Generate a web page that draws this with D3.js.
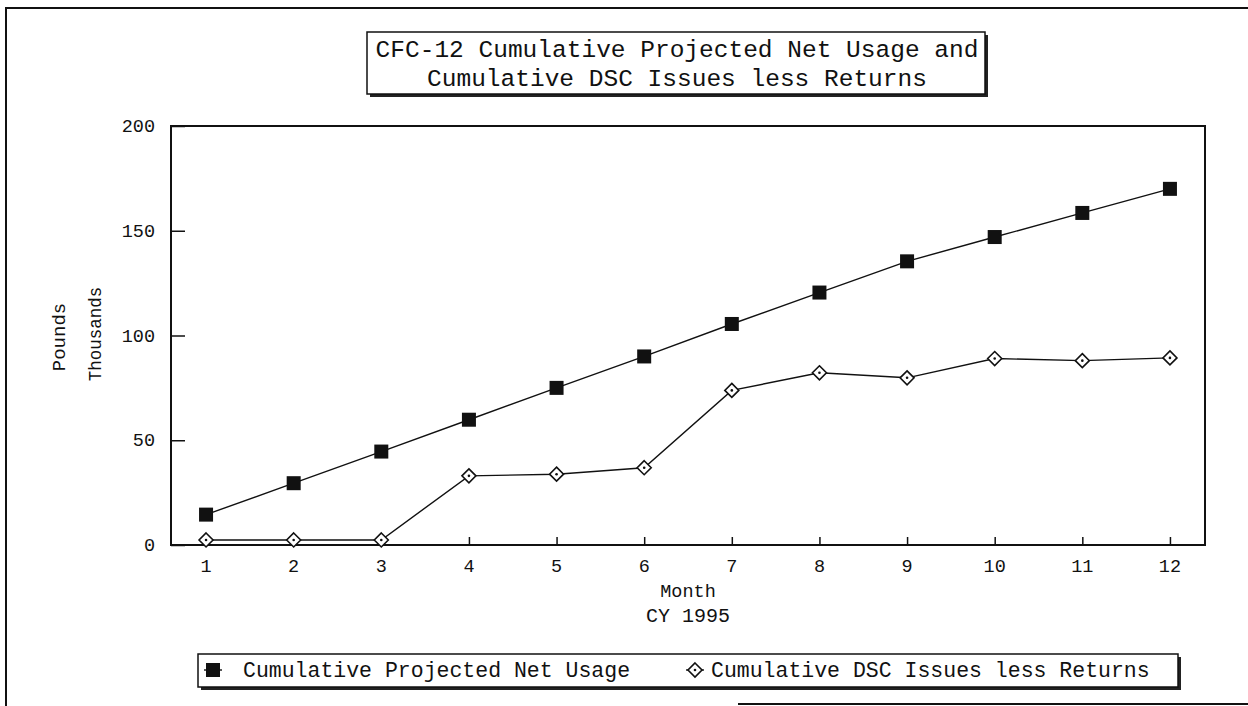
<!DOCTYPE html>
<html>
<head>
<meta charset="utf-8">
<script src="https://cdn.jsdelivr.net/npm/d3@7"></script>
<style>
  body { margin: 0; background: #fff; }
  svg { display: block; }
  text { font-family: "Liberation Mono", "Courier New", monospace; fill: #111; }
</style>
</head>
<body>
<svg width="1248" height="706"></svg>
<script>
// datos
const months = [1, 2, 3, 4, 5, 6, 7, 8, 9, 10, 11, 12];
const projectedNet = [14.5, 29.5, 44.6, 59.8, 75, 90, 105.5, 120.5, 135.4, 147, 158.5, 170];
const dscIssues = [2.4, 2.4, 2.4, 33, 33.8, 36.9, 73.8, 82.2, 79.8, 89, 88, 89.3];
const yTicks = [0, 50, 100, 150, 200];
const titleLines = ["CFC-12 Cumulative Projected Net Usage and", "Cumulative DSC Issues less Returns"];
const seriesNames = ["Cumulative Projected Net Usage", "Cumulative DSC Issues less Returns"];

const svg = d3.select("svg");
const W = 1248, H = 706;
const plot = { left: 171, right: 1205, top: 126, bottom: 545 };

// marco exterior
svg.append("path")
  .attr("d", `M6,${H} L6,8 L${W},8 M738,704 L${W},704`)
  .attr("fill", "none")
  .attr("stroke", "#111")
  .attr("stroke-width", 2);

// escalas
const x = d3.scaleLinear().domain([0.6, 12.4]).range([plot.left, plot.right]);
const y = d3.scaleLinear().domain([0, 200]).range([plot.bottom, plot.top]);

// caja con sombra
function shadowBox(x0, y0, w, h) {
  svg.append("rect")
    .attr("x", x0 + 3).attr("y", y0 + 3)
    .attr("width", w).attr("height", h)
    .attr("fill", "#222");
  svg.append("rect")
    .attr("x", x0).attr("y", y0)
    .attr("width", w).attr("height", h)
    .attr("fill", "#fff")
    .attr("stroke", "#111")
    .attr("stroke-width", 1.5);
}

// título
shadowBox(367, 32, 618, 62);
svg.append("g").selectAll("text")
  .data(titleLines)
  .enter()
  .append("text")
  .attr("x", 677)
  .attr("y", (d, i) => 57 + i * 29)
  .attr("text-anchor", "middle")
  .style("font-size", "24.5px")
  .text((d) => d);

// marco del área de trazado
svg.append("rect")
  .attr("x", plot.left).attr("y", plot.top)
  .attr("width", plot.right - plot.left)
  .attr("height", plot.bottom - plot.top)
  .attr("fill", "none")
  .attr("stroke", "#111")
  .attr("stroke-width", 2);

// eje Y
const yAxis = svg.append("g")
  .attr("transform", `translate(${plot.left},0)`)
  .call(d3.axisRight(y).tickValues(yTicks).tickSize(14).tickFormat(""));
yAxis.select(".domain").remove();
yAxis.selectAll("line").attr("stroke", "#111").attr("stroke-width", 1.5);

svg.append("g").selectAll("text")
  .data(yTicks)
  .enter()
  .append("text")
  .attr("x", 155)
  .attr("y", (d) => y(d) + 6)
  .attr("text-anchor", "end")
  .style("font-size", "18.5px")
  .text((d) => d);

// eje X
const xAxis = svg.append("g")
  .attr("transform", `translate(0,${plot.bottom})`)
  .call(d3.axisTop(x).tickValues(months).tickSize(8).tickFormat(""));
xAxis.select(".domain").remove();
xAxis.selectAll("line").attr("stroke", "#111").attr("stroke-width", 1.5);

svg.append("g").selectAll("text")
  .data(months)
  .enter()
  .append("text")
  .attr("x", (d) => x(d))
  .attr("y", 572)
  .attr("text-anchor", "middle")
  .style("font-size", "18.5px")
  .text((d) => d);

// títulos de ejes
const midX = (plot.left + plot.right) / 2;
svg.append("text").attr("x", midX).attr("y", 597)
  .attr("text-anchor", "middle").style("font-size", "18.5px").text("Month");
svg.append("text").attr("x", midX).attr("y", 622)
  .attr("text-anchor", "middle").style("font-size", "20px").text("CY 1995");
svg.append("text")
  .attr("transform", "translate(65,337) rotate(-90)")
  .attr("text-anchor", "middle").style("font-size", "19px").text("Pounds");
svg.append("text")
  .attr("transform", "translate(101,334) rotate(-90)")
  .attr("text-anchor", "middle").style("font-size", "17.5px").text("Thousands");

// líneas
const line = d3.line().x((d) => x(d[0])).y((d) => y(d[1]));
const netData = months.map((m, i) => [m, projectedNet[i]]);
const dscData = months.map((m, i) => [m, dscIssues[i]]);

[netData, dscData].forEach((data) => {
  svg.append("path")
    .datum(data)
    .attr("d", line)
    .attr("fill", "none")
    .attr("stroke", "#111")
    .attr("stroke-width", 1.4);
});

// marcadores
function squareMark(g, cx, cy) {
  g.append("rect")
    .attr("x", cx - 7).attr("y", cy - 7)
    .attr("width", 14).attr("height", 14)
    .attr("fill", "#111");
}
function diamondMark(g, cx, cy) {
  g.append("path")
    .attr("d", `M${cx},${cy - 7} L${cx + 7},${cy} L${cx},${cy + 7} L${cx - 7},${cy} Z`)
    .attr("fill", "#fff")
    .attr("stroke", "#111")
    .attr("stroke-width", 1.6);
  g.append("circle")
    .attr("cx", cx).attr("cy", cy).attr("r", 1.3)
    .attr("fill", "#111");
}

const marks = svg.append("g");
netData.forEach((d) => squareMark(marks, x(d[0]), y(d[1])));
dscData.forEach((d) => diamondMark(marks, x(d[0]), y(d[1])));

// leyenda
shadowBox(198, 654, 980, 33);
const leg = svg.append("g");
leg.append("line").attr("x1", 204).attr("x2", 222).attr("y1", 670).attr("y2", 670)
  .attr("stroke", "#111").attr("stroke-width", 1.4);
squareMark(leg, 213, 670);
leg.append("text").attr("x", 243).attr("y", 677)
  .style("font-size", "21.5px").text(seriesNames[0]);
leg.append("line").attr("x1", 686).attr("x2", 704).attr("y1", 670).attr("y2", 670)
  .attr("stroke", "#111").attr("stroke-width", 1.4);
diamondMark(leg, 695, 670);
leg.append("text").attr("x", 711).attr("y", 677)
  .style("font-size", "21.5px").text(seriesNames[1]);
</script>
</body>
</html>
